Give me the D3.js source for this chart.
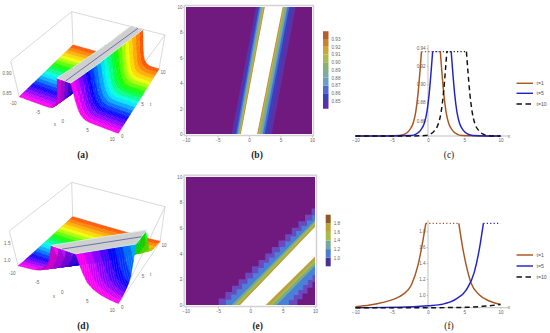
<!DOCTYPE html>
<html lang="en">
<head>
  <meta charset="UTF-8">
  <title>Soliton profiles</title>
  <style>
    body { margin: 0; background: #fff; }
    text { font-family: "Liberation Sans", Arial, sans-serif; fill: #666; }
    .tick text { font-size: 4.6px; fill: #666; }
    .caption { font-family: "Liberation Serif", serif; font-size: 9.5px; fill: #222; text-anchor: middle; }
    .legend-label { font-size: 5.2px; fill: #555; }
    .small { font-size: 4.6px; text-anchor: middle; }
  </style>
</head>
<body>
  <div id="chart"></div>
  <script src="https://d3js.org/d3.v7.min.js"></script>
  <script>
    // shared t rows of the two surfaces
    const tRows = [0, 0.5, 1, 1.5, 2, 2.5, 3, 3.5, 4, 4.5, 5, 5.5, 6, 6.5, 7, 7.5, 8, 8.5, 9, 9.5, 10];
    const hueT = [0, 2.5, 4.5, 6, 8, 10];
    const hueV = [310, 235, 180, 125, 55, 15];

    // panel (a) surface
    const ridgeLeftA = [-1.3, -1.1, -0.9, -0.7, -0.5, -0.3, -0.15, 0.05, 0.25, 0.45, 0.65, 0.85, 1.05, 1.25, 1.45, 1.65, 1.8, 2.0, 2.2, 2.4, 2.6];
    const ridgeRightA = [1.3, 1.5, 1.7, 1.9, 2.1, 2.3, 2.5, 2.7, 2.9, 3.0, 3.2, 3.4, 3.6, 3.8, 4.0, 4.2, 4.4, 4.6, 4.85, 5.1, 5.3];
    const wallDistA = [0, 0.2, 0.47, 0.8, 1.15, 1.7, 2.3, 3, 6];
    const wallZA = [0.936, 0.915, 0.89, 0.869, 0.857, 0.849, 0.845, 0.8435, 0.843];

    // panel (d) surface
    const ridgeLeftD = [-2.2, -1.25, -0.3, 0.7, 1.7, 2.7, 3.7, 4.7, 5.65, 6.65, 7.64, 8.6, 9.6, 10.6, 11.6, 12.6, 13.6, 14.6, 15.6, 16.6, 17.6];
    const ridgeRightD = [2.3, 3.3, 4.25, 5.25, 6.25, 7.2, 8.2, 9.2, 10.2, 11.2, 12.2, 13.2, 14.2, 15.2, 16.2, 17.2, 18.2, 19.2, 20.2, 21.2, 22.2];
    const wallDistDL = [0, 0.39, 1.07, 2, 3.1, 4.5, 5.9, 7.7, 9.7, 20];
    const wallZDL = [1.9, 1.69, 1.377, 1.125, 1.0, 0.936, 0.907, 0.874, 0.853, 0.84];
    const wallDistDR = [0, 0.55, 1.0, 1.7, 2.85, 4.2, 5.8, 8, 20];
    const wallZDR = [1.9, 1.586, 1.377, 1.146, 1.0, 0.924, 0.88, 0.86, 0.84];
    const plateauXD = [-2.2, 2.3, 10, 10];
    const plateauTD = [0, 0, 3.9, 6.2];

    // axis ticks
    const xTicks = [-10, -5, 0, 5, 10];
    const tTicks3d = [0, 5, 10];
    const tTicks2d = [0, 2, 4, 6, 8, 10];
    const zTicksA = [0.85, 0.9];
    const zTicksD = [1.0, 1.5];

    // panel (b) contours, outer to inner
    const leftAt0B = [-2.75, -2.4, -2.05, -1.85, -1.75, -1.65, -1.55, -1.45, -1.4, -1.3];
    const leftAt10B = [1.1, 1.35, 1.6, 1.8, 1.95, 2.1, 2.2, 2.3, 2.4, 2.5];
    const rightAt0B = [3.6, 3.0, 2.5, 2.2, 2.0, 1.8, 1.65, 1.5, 1.4, 1.3];
    const rightAt10B = [7.4, 6.8, 6.4, 6.1, 5.95, 5.8, 5.65, 5.5, 5.45, 5.35];
    const bandColorsB = ["#5b32a6", "#3b3fc0", "#4a6fd0", "#6aa0c8", "#79ad9c", "#8ab070", "#aebb4c", "#c9a83a", "#c6842e", "#b5602a"];
    const levelsB = [0.85, 0.86, 0.87, 0.88, 0.89, 0.9, 0.91, 0.92, 0.93];

    // panel (e) contours, outer to inner
    const upperAt0E = [-5.4, -4.2, -2.9, -2.4, -1.95, -1.6];
    const upperTAt10E = [7.53, 7.0, 6.6, 6.45, 6.25, 6.1];
    const lowerAt0E = [6.9, 5.6, 4.07, 3.45, 3.0, 2.4];
    const lowerTAt10E = [1.8, 2.34, 3.04, 3.3, 3.5, 3.77];
    const bandColorsE = ["#6a48c0", "#4a80d8", "#74a898", "#a8bb4a", "#b9a336", "#8c5a26"];
    const legendColorsE = ["#46309a", "#4a7dd0", "#74a898", "#a8bb4a", "#b9a336", "#8c5a26"];
    const levelsE = [1.0, 1.2, 1.4, 1.6, 1.8];

    // panel (c) profiles
    const c1X = [-10, -6, -4, -3.2, -2.6, -2.05, -1.7, -1.37, -1.1, -0.9, 1.7, 1.9, 2.17, 2.5, 2.85, 3.4, 4.0, 4.7, 7, 10];
    const c5X = [-10, -5, -2.36, -1.66, -1.06, -0.51, -0.16, 0.17, 0.44, 0.64, 3.2, 3.4, 3.67, 4.0, 4.35, 4.9, 5.5, 6.2, 8, 10];
    const c10X = [-10, -3, -0.4, 0.3, 0.9, 1.45, 1.8, 2.13, 2.4, 2.6, 5.3, 5.5, 5.77, 6.1, 6.45, 7, 7.6, 8.3, 9, 10];
    const cY = [0.843, 0.843, 0.8435, 0.845, 0.849, 0.857, 0.869, 0.89, 0.915, 0.936, 0.936, 0.915, 0.89, 0.869, 0.857, 0.849, 0.845, 0.8435, 0.843, 0.843];
    const cTicks = [0.86, 0.88, 0.9, 0.92, 0.94];

    // panel (f) profiles
    const f1X = [-10, -8, -6.2, -4.8, -3.4, -2.3, -1.37, -0.69, -0.3, 4.25, 4.8, 5.26, 5.95, 7.1, 8.47, 10];
    const f1Y = [0.853, 0.874, 0.907, 0.945, 1.01, 1.125, 1.377, 1.69, 1.9, 1.9, 1.586, 1.377, 1.146, 1.0, 0.924, 0.88];
    const f5X = [-10, -3.9, 0, 2.06, 3.9, 5.26, 6.4, 7.1, 7.64, 10];
    const f5Y = [0.84, 0.845, 0.865, 0.885, 0.95, 1.06, 1.29, 1.586, 1.9, 1.9];
    const f10X = [-10, 0, 4.8, 7.5, 9.3, 10];
    const f10Y = [0.84, 0.84, 0.844, 0.857, 0.873, 0.88];
    const fTicks = [1.0, 1.2, 1.4, 1.6, 1.8];

    const seriesNames = ["t=1", "t=5", "t=10"];
    const seriesColors = ["#a9561f", "#2222cc", "#111111"];

    const svg = d3.select("#chart").append("svg").attr("width", 550).attr("height", 333);

    // hollow box + rainbow surface, mapped by trilinear corners
    function drawSurface(o) {
      const g = svg.append("g");
      const ux = d3.scaleLinear().domain([-10, 10]).range([0, 1]);
      const vt = d3.scaleLinear().domain([0, 10]).range([0, 1]);
      const wz = d3.scaleLinear().domain(o.zDomain).range([0, 1]);
      const c = o.corners;
      const mix = (a, b, f) => [a[0] + (b[0] - a[0]) * f, a[1] + (b[1] - a[1]) * f];
      const project = (x, t, z) => {
        const u = ux(x), v = vt(t), w = wz(z);
        const bottom = mix(mix(c.A, c.B, u), mix(c.D, c.C, u), v);
        const top = mix(mix(c.At, c.Bt, u), mix(c.Dt, c.Ct, u), v);
        return mix(bottom, top, w);
      };
      const path = d3.line();

      const edges = [[c.At, c.Dt], [c.Dt, c.Ct], [c.At, c.A], [c.Ct, o.frontEdgeEnd], [c.Ct, c.C], [c.Dt, c.D], [c.C, c.B], [c.A, c.D], [c.D, c.C]];
      g.selectAll("line.box").data(edges).enter().append("line").attr("class", "box")
        .attr("x1", d => d[0][0]).attr("y1", d => d[0][1])
        .attr("x2", d => d[1][0]).attr("y2", d => d[1][1])
        .attr("stroke", "#cfcfcf").attr("stroke-width", 0.8);

      const leftZ = d3.scaleLinear().domain(o.distL).range(o.zL).clamp(true);
      const rightZ = d3.scaleLinear().domain(o.distR).range(o.zR).clamp(true);
      const hue = d3.scaleLinear().domain(hueT).range(hueV);
      const columns = d3.range(-10, 10.01, 0.25);
      const zAt = (x, i) => x < o.left[i] ? leftZ(o.left[i] - x) : x > o.right[i] ? rightZ(x - o.right[i]) : o.zDomain[1];

      // painter's order: back row first, low x first
      for (let i = tRows.length - 2; i >= 0; i--) {
        const color = d3.hsl(hue((tRows[i] + tRows[i + 1]) / 2), 1, 0.5);
        const rising = color.darker(0.55).formatHex();
        const flat = color.formatHex();
        for (let j = 0; j < columns.length - 1; j++) {
          const x0 = columns[j], x1 = columns[j + 1];
          const z00 = zAt(x0, i), z10 = zAt(x1, i), z01 = zAt(x0, i + 1), z11 = zAt(x1, i + 1);
          const fill = z10 - z00 > (o.zDomain[1] - o.zDomain[0]) * 0.01 ? rising : flat;
          g.append("path")
            .attr("d", path([project(x0, tRows[i + 1], z01), project(x1, tRows[i + 1], z11), project(x1, tRows[i], z10), project(x0, tRows[i], z00)]) + "Z")
            .attr("fill", fill).attr("stroke", fill).attr("stroke-width", 0.35);
        }
        // mesh line along x on every whole t
        if (i % 2 === 0) {
          g.append("path")
            .attr("d", path(columns.map(x => project(x, tRows[i], zAt(x, i)))))
            .attr("fill", "none").attr("stroke", "#000").attr("stroke-opacity", 0.14).attr("stroke-width", 0.4);
        }
      }

      // clipped top of the ridge
      const top = o.zDomain[1];
      g.append("path")
        .attr("d", path(o.plateau.map(p => project(p[0], p[1], top))) + "Z")
        .attr("fill", "#cfcfcf").attr("stroke", "#d9ecec").attr("stroke-width", 0.9);
      g.append("path")
        .attr("d", path(o.plateauLine.map(p => project(p[0], p[1], top))))
        .attr("fill", "none").attr("stroke", "#3c4aa0").attr("stroke-width", 0.7);

      // tick labels
      const label = (p, text, dx, dy) => g.append("text").attr("class", "small").attr("x", p[0] + dx).attr("y", p[1] + dy).attr("dy", "0.35em").text(text);
      xTicks.forEach(x => label(project(x, 0, o.zDomain[0]), x, -6, 6.5));
      tTicks3d.forEach(t => label(project(10, t, o.zDomain[0]), t, 4, 3.5));
      o.zTicks.forEach(z => label([o.zLabelX, project(-10, 0, z)[1]], o.zFormat(z), 0, -1));
      g.append("text").attr("class", "small").attr("x", o.xLabel[0]).attr("y", o.xLabel[1]).text("x");
      g.append("text").attr("class", "small").attr("x", o.tLabel[0]).attr("y", o.tLabel[1]).text("t");
    }

    // contour panel, each level painted as a region on top of the previous one
    function drawContours(o) {
      const g = svg.append("g");
      const x = d3.scaleLinear().domain([-10, 10]).range(o.xRange);
      const t = d3.scaleLinear().domain([0, 10]).range(o.yRange);
      const clipId = "clip" + o.id;
      g.append("clipPath").attr("id", clipId).append("rect")
        .attr("x", o.xRange[0]).attr("y", o.yRange[1])
        .attr("width", o.xRange[1] - o.xRange[0]).attr("height", o.yRange[0] - o.yRange[1]);
      g.append("rect")
        .attr("x", o.xRange[0] - 1.5).attr("y", o.yRange[1] - 1.5)
        .attr("width", o.xRange[1] - o.xRange[0] + 3).attr("height", o.yRange[0] - o.yRange[1] + 3)
        .attr("fill", "#fff").attr("stroke", "#d2d2d2").attr("stroke-width", 1.5);
      const plot = g.append("g").attr("clip-path", `url(#${clipId})`);
      plot.append("rect")
        .attr("x", o.xRange[0]).attr("y", o.yRange[1])
        .attr("width", o.xRange[1] - o.xRange[0]).attr("height", o.yRange[0] - o.yRange[1])
        .attr("fill", "#701a80");
      const xy = d => [x(d[0]), t(d[1])];
      o.regions.forEach((region, i) => {
        const stepped = i < o.stairs;
        let d;
        if (stepped) {
          const sample = (a, b, n) => d3.range(n + 1).map(k => [a[0] + (b[0] - a[0]) * k / n, a[1] + (b[1] - a[1]) * k / n]);
          const upper = sample(region[0], region[1], o.stepsUpper[i]);
          const lower = sample(region[2], region[3], o.stepsLower[i]);
          const pts = upper.concat(lower).map(xy);
          d = d3.line().curve(d3.curveStep)(pts) + "Z";
        } else {
          d = d3.line()(region.map(xy)) + "Z";
        }
        plot.append("path").attr("d", d).attr("fill", o.colors[i]);
      });
      const inner = o.regions[o.regions.length - 1];
      plot.append("path").attr("d", d3.line()(inner.map(xy)) + "Z").attr("fill", "#fff");

      const bottom = g.append("g").attr("transform", `translate(0,${o.yRange[0] + 2})`)
        .call(d3.axisBottom(x).tickValues(xTicks).tickSize(1.5).tickPadding(1.5).tickFormat(d3.format("d")));
      const left = g.append("g").attr("transform", `translate(${o.xRange[0] - 2},0)`)
        .call(d3.axisLeft(t).tickValues(tTicks2d).tickSize(1).tickPadding(0.5).tickFormat(d3.format("d")));
      [bottom, left].forEach(a => {
        a.select(".domain").remove();
        a.selectAll("line").attr("stroke", "#999").attr("stroke-width", 0.5);
      });

      // colour bar
      const yLegend = d3.scaleLinear().domain([o.levels[0], o.levels[o.levels.length - 1]]).range(o.legendRange);
      const stepL = o.levels[1] - o.levels[0];
      const bar = g.append("g");
      bar.selectAll("rect").data(o.legendColors).enter().append("rect")
        .attr("x", o.legendX).attr("width", o.legendW)
        .attr("y", (d, i) => yLegend(o.levels[0] + stepL * i))
        .attr("height", yLegend(o.levels[0]) - yLegend(o.levels[1]))
        .attr("fill", d => d);
      const barAxis = g.append("g").attr("transform", `translate(${o.legendX + o.legendW},0)`)
        .call(d3.axisRight(yLegend).tickValues(o.levels).tickSize(0).tickPadding(3).tickFormat(d3.format(o.legendFormat)));
      barAxis.select(".domain").remove();
    }

    // line profiles, the part at the cap is dotted
    function drawProfiles(o) {
      const g = svg.append("g");
      const x = d3.scaleLinear().domain([-10, 10]).range(o.xRange);
      const y = d3.scaleLinear().domain(o.yDomain).range(o.yRange);
      const line = d3.line().x(d => x(d[0])).y(d => y(d[1]));
      const cap = o.yCap;

      const xAxis = g.append("g").attr("transform", `translate(0,${o.yRange[0]})`)
        .call(d3.axisBottom(x).tickValues(xTicks).tickSize(1.2).tickPadding(1.5).tickFormat(d3.format("d")));
      const yAxis = g.append("g").attr("transform", `translate(${x(0)},0)`)
        .call(d3.axisLeft(y).tickValues(o.ticks).tickSize(1.2).tickPadding(1.2).tickFormat(d3.format(o.tickFormat)));
      [xAxis, yAxis].forEach(a => a.selectAll("line").attr("stroke", "#888").attr("stroke-width", 0.5));
      xAxis.select(".domain").attr("d", `M${o.xRange[0]},0H${o.xRange[1] + 8}`).attr("stroke", "#999").attr("stroke-width", 0.6);
      yAxis.select(".domain").attr("d", `M0,${o.yRange[0]}V${o.yAxisTop}`).attr("stroke", "#999").attr("stroke-width", 0.6);
      g.append("text").attr("class", "small").attr("x", o.xRange[1] + 8.5).attr("y", o.yRange[0] + 1.5).text("x");

      o.series.forEach((s, k) => {
        const pts = d3.zip(s.x, s.y);
        const solid = [];
        const dotted = [];
        let run = [pts[0]];
        for (let i = 1; i < pts.length; i++) {
          const flatTop = pts[i][1] >= cap && pts[i - 1][1] >= cap;
          if (flatTop) {
            solid.push(run);
            dotted.push([pts[i - 1], pts[i]]);
            run = [pts[i]];
          } else {
            run.push(pts[i]);
          }
        }
        solid.push(run);
        solid.filter(r => r.length > 1).forEach(r => {
          g.append("path").attr("d", line.curve(d3.curveMonotoneX)(r)).attr("fill", "none")
            .attr("stroke", seriesColors[k]).attr("stroke-width", 1.45)
            .attr("stroke-dasharray", k === 2 ? "5,3.4" : null);
        });
        dotted.forEach(r => {
          g.append("path").attr("d", line.curve(d3.curveLinear)(r)).attr("fill", "none")
            .attr("stroke", seriesColors[k]).attr("stroke-width", 1.3)
            .attr("stroke-dasharray", "1.2,2.2");
        });
      });

      seriesNames.forEach((name, k) => {
        const ly = o.legendY[k];
        g.append("line").attr("x1", 516.5).attr("x2", 533).attr("y1", ly).attr("y2", ly)
          .attr("stroke", seriesColors[k]).attr("stroke-width", 1.45)
          .attr("stroke-dasharray", k === 2 ? "5.5,3.5" : null);
        g.append("text").attr("class", "legend-label").attr("x", 536.5).attr("y", ly).attr("dy", "0.35em").text(name);
      });
    }

    drawSurface({
      corners: { A: [19.3, 96.7], B: [118.3, 133.3], C: [159, 69], D: [73, 45], At: [10.7, 61], Bt: [117, 100], Ct: [165, 35], Dt: [71.7, 11.7] },
      frontEdgeEnd: [117, 100],
      zDomain: [0.843, 0.936],
      left: ridgeLeftA, right: ridgeRightA,
      distL: wallDistA, zL: wallZA, distR: wallDistA, zR: wallZA,
      plateau: d3.zip(ridgeLeftA, tRows).concat(d3.zip(ridgeRightA, tRows).reverse()),
      plateauLine: [[0.3, 0], [4.2, 10]],
      zTicks: zTicksA, zFormat: d3.format(".2f"), zLabelX: 7,
      xLabel: [55, 126], tLabel: [150.7, 106]
    });

    drawSurface({
      corners: { A: [18.3, 266.7], B: [118.3, 304.3], C: [160, 242.3], D: [72.7, 216.7], At: [9.3, 231], Bt: [117, 268], Ct: [165, 206.7], Dt: [71.7, 182.3] },
      frontEdgeEnd: [118.3, 304.3],
      zDomain: [0.84, 1.9],
      left: ridgeLeftD, right: ridgeRightD,
      distL: wallDistDL, zL: wallZDL, distR: wallDistDR, zR: wallZDR,
      plateau: d3.zip(plateauXD, plateauTD),
      plateauLine: [[-0.2, 0], [10, 5.1]],
      zTicks: zTicksD, zFormat: d3.format(".1f"), zLabelX: 7.3,
      xLabel: [54, 298], tLabel: [150.7, 276]
    });

    const cornerRegion = (a0, a1, b1, b0) => [a0, a1, b1, b0];

    drawContours({
      id: "b", xRange: [186, 312], yRange: [134, 7],
      regions: leftAt0B.map((v, i) => cornerRegion([v, 0], [leftAt10B[i], 10], [rightAt10B[i], 10], [rightAt0B[i], 0])),
      colors: bandColorsB, stairs: 0,
      levels: levelsB, legendColors: bandColorsB, legendRange: [101, 39], legendX: 323, legendW: 5.5, legendFormat: ".2f"
    });

    drawContours({
      id: "e", xRange: [185.7, 315], yRange: [305, 176.7],
      regions: upperAt0E.map((v, i) => cornerRegion([v, 0], [10, upperTAt10E[i]], [10, lowerTAt10E[i]], [lowerAt0E[i], 0])),
      colors: bandColorsE, stairs: 2, stepsUpper: [15, 17], stepsLower: [4, 6],
      levels: levelsE, legendColors: legendColorsE, legendRange: [257.7, 223.3], legendX: 325.7, legendW: 5, legendFormat: ".1f"
    });

    drawProfiles({
      xRange: [355.5, 500.5], yRange: [136, 48], yDomain: [0.843, 0.94], yCap: 0.936, yAxisTop: 45,
      ticks: cTicks, tickFormat: ".2f", legendY: [83.3, 93.3, 104],
      series: [{ x: c1X, y: cY }, { x: c5X, y: cY }, { x: c10X, y: cY }]
    });

    drawProfiles({
      xRange: [355.5, 500.5], yRange: [307.7, 223.3], yDomain: [0.84, 1.9], yCap: 1.9, yAxisTop: 220,
      ticks: fTicks, tickFormat: ".1f", legendY: [255, 266, 277],
      series: [{ x: f1X, y: f1Y }, { x: f5X, y: f5Y }, { x: f10X, y: f10Y }]
    });

    const captions = [["(a)", 82.7, 158, "bold"], ["(b)", 257, 158, "bold"], ["(c)", 449, 158, "normal"], ["(d)", 83, 329, "bold"], ["(e)", 257.7, 329, "bold"], ["(f)", 449, 329, "normal"]];
    svg.selectAll("text.caption").data(captions).enter().append("text").attr("class", "caption")
      .attr("x", d => d[1]).attr("y", d => d[2]).attr("font-weight", d => d[3]).text(d => d[0]);
  </script>
</body>
</html>
